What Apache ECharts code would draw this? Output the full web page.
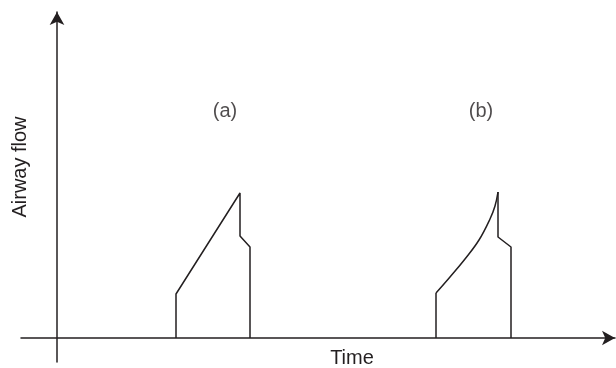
<!DOCTYPE html>
<html>
<head>
<meta charset="utf-8">
<script src="https://cdn.jsdelivr.net/npm/echarts@6/dist/echarts.min.js"></script>
<style>html,body{margin:0;padding:0;background:#fff;}#c{width:616px;height:368px;}</style>
</head>
<body>
<div id="c"></div>
<script>
// Time (arbitrary units) and airway flow (arbitrary units)
var waveA = [[11.9, 0], [11.9, 4.4], [18.3, 14.5], [18.3, 10.2], [19.3, 9.1], [19.3, 0]];
var waveBRise = [[37.9, 0], [37.9, 4.5]];
var waveBCurve = [[37.9, 4.5], [39.3, 6.1], [40.8, 7.9], [42.2, 9.8], [43.3, 11.9], [43.8, 13.2], [44.1, 14.6]];
var waveBFall = [[44.1, 14.6], [44.1, 10.1], [45.4, 9.1], [45.4, 0]];
var panelLabels = ['(a)', '(b)'];
var panelLabelPos = [[16.8, 22.7], [42.4, 22.7]];
var xTitle = 'Time';
var yTitle = 'Airway flow';

var ink = '#231f20';
var font = '"Liberation Sans", Arial, sans-serif';

var chart = echarts.init(document.getElementById('c'), null, {renderer: 'canvas'});
var axisCommon = {
  type: 'value',
  axisLine: {show: true, onZero: true, symbol: ['none', 'arrow'], symbolSize: [11, 13], lineStyle: {color: ink, width: 1.5}},
  axisTick: {show: false},
  axisLabel: {show: false},
  splitLine: {show: false}
};
var lineStyle = {color: ink, width: 1.5};
chart.setOption({
  animation: false,
  grid: {left: 21, right: 1, top: 12, bottom: 6},
  xAxis: Object.assign({}, axisCommon, {min: -3.6, max: 55.8}),
  yAxis: Object.assign({}, axisCommon, {min: -2.4, max: 32.6}),
  graphic: [
    {type: 'text', x: 352, y: 358, style: {text: xTitle, fill: ink, font: '20px ' + font, textAlign: 'center', textVerticalAlign: 'middle'}},
    {type: 'text', x: 20.5, y: 167, rotation: Math.PI / 2, style: {text: yTitle, fill: ink, font: '20px ' + font, textAlign: 'center', textVerticalAlign: 'middle'}}
  ],
  series: [
    {type: 'line', data: waveA, showSymbol: false, clip: false, lineStyle: lineStyle},
    {type: 'line', data: waveBRise, showSymbol: false, clip: false, lineStyle: lineStyle},
    {type: 'line', data: waveBCurve, showSymbol: false, clip: false, smooth: 0.4, lineStyle: lineStyle},
    {type: 'line', data: waveBFall, showSymbol: false, clip: false, lineStyle: lineStyle},
    {type: 'scatter', symbolSize: 0, silent: true,
      data: panelLabelPos.map(function (p, i) { return {value: p, name: panelLabels[i]}; }),
      label: {show: true, position: 'inside', formatter: '{b}', color: ink, fontSize: 20, fontFamily: font}}
  ]
});
</script>
</body>
</html>
